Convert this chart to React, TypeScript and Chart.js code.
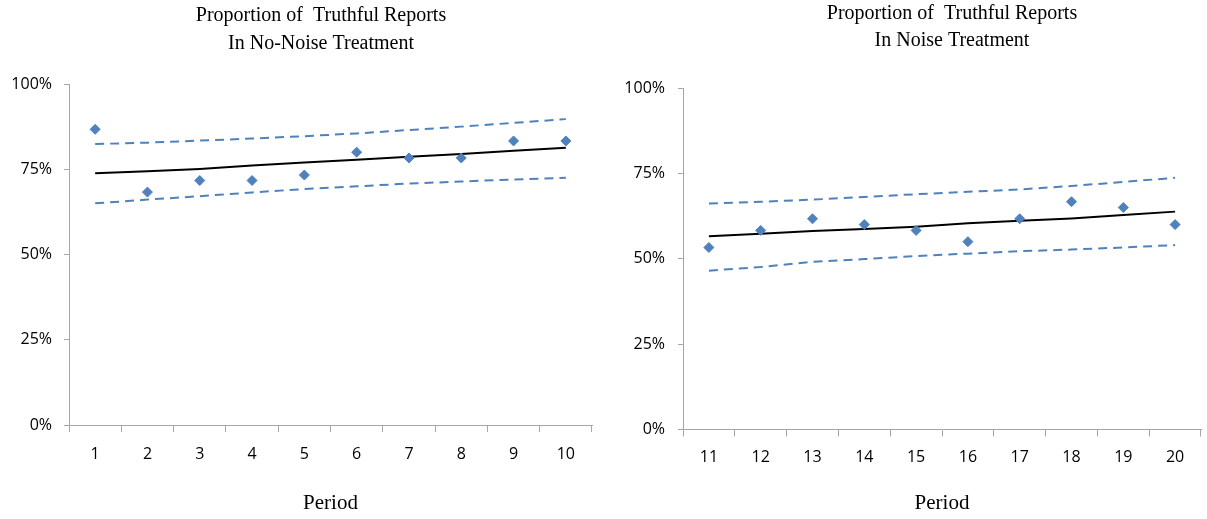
import React, { useEffect, useRef } from "react";
import { Chart, registerables } from "chart.js";

Chart.register(...registerables);

// Periods shown on each panel's category axis
const noNoisePeriods = ["1", "2", "3", "4", "5", "6", "7", "8", "9", "10"];
const noisePeriods = ["11", "12", "13", "14", "15", "16", "17", "18", "19", "20"];

// Observed share of truthful reports (%)
const noNoiseObserved = [86.7, 68.3, 71.7, 71.7, 73.3, 80.0, 78.3, 78.3, 83.3, 83.3];
const noiseObserved = [53.3, 58.3, 61.7, 60.0, 58.3, 55.0, 61.7, 66.7, 65.0, 60.0];

// Fitted trend with its upper and lower confidence bounds (%)
const noNoiseFit = [73.8, 74.4, 75.1, 76.1, 77.0, 77.8, 78.7, 79.5, 80.4, 81.3];
const noNoiseUpper = [82.4, 82.8, 83.4, 84.0, 84.7, 85.5, 86.5, 87.5, 88.6, 89.7];
const noNoiseLower = [65.0, 66.1, 67.1, 68.2, 69.2, 70.0, 70.8, 71.4, 72.0, 72.5];

const noiseFit = [56.6, 57.3, 58.1, 58.7, 59.4, 60.4, 61.1, 61.8, 62.8, 63.8];
const noiseUpper = [66.2, 66.7, 67.3, 68.1, 68.9, 69.6, 70.3, 71.3, 72.5, 73.7];
const noiseLower = [46.5, 47.6, 49.1, 49.9, 50.8, 51.5, 52.2, 52.7, 53.3, 54.0];

// Percentage axis labels
const percentTicks = ["0%", "25%", "50%", "75%", "100%"];

const noNoiseTitle = ["Proportion of  Truthful Reports", "In No-Noise Treatment"];
const noiseTitle = ["Proportion of  Truthful Reports", "In Noise Treatment"];
const xAxisTitle = "Period";

const BLUE = "#4f81bd";
const AXIS = "#a6a6a6";
const SERIF = "'Liberation Serif', 'DejaVu Serif', serif";
const SANS = "'Open Sans', 'Liberation Sans', sans-serif";

// Draws a multi-line heading at fixed baselines above the plot
const panelTitlePlugin = {
  id: "panelTitle",
  afterDraw(chart: any, _args: any, opts: any) {
    const { ctx } = chart;
    ctx.save();
    ctx.fillStyle = "#000";
    ctx.font = `${opts.size}px ${SERIF}`;
    ctx.textAlign = "center";
    ctx.textBaseline = "alphabetic";
    (opts.lines as string[]).forEach((line, i) => {
      ctx.fillText(line, opts.x, opts.baselines[i]);
    });
    ctx.restore();
  },
};

type PanelProps = {
  left: number;
  width: number;
  height: number;
  labels: string[];
  observed: number[];
  fit: number[];
  upper: number[];
  lower: number[];
  title: string[];
  titleX: number;
  titleBaselines: number[];
  axisWidth: number;
  axisHeight: number;
  areaTop: number;
  padRight: number;
  yTickPad: number;
  xTickPad: number;
};

function Panel(p: PanelProps) {
  const ref = useRef<HTMLCanvasElement | null>(null);

  useEffect(() => {
    if (!ref.current) return;
    const dashed = {
      borderColor: BLUE,
      borderWidth: 2,
      borderDash: [9, 6],
      borderCapStyle: "butt" as const,
      pointRadius: 0,
      tension: 0,
      fill: false,
    };
    const chart = new Chart(ref.current, {
      type: "line",
      data: {
        labels: p.labels,
        datasets: [
          {
            label: "Observed",
            data: p.observed,
            showLine: false,
            pointStyle: "rectRot",
            pointRadius: 5,
            pointBorderWidth: 1,
            pointBackgroundColor: BLUE,
            pointBorderColor: BLUE,
          },
          {
            label: "Fit",
            data: p.fit,
            borderColor: "#000",
            borderWidth: 2,
            pointRadius: 0,
            tension: 0,
            fill: false,
          },
          { label: "Upper", data: p.upper, ...dashed },
          { label: "Lower", data: p.lower, ...dashed },
        ],
      },
      options: {
        responsive: false,
        animation: false,
        devicePixelRatio: 1,
        layout: { padding: { top: p.areaTop, right: p.padRight, left: 0, bottom: 0 } },
        plugins: {
          legend: { display: false },
          tooltip: { enabled: false },
          panelTitle: {
            lines: p.title,
            x: p.titleX,
            baselines: p.titleBaselines,
            size: 20,
          },
        } as any,
        scales: {
          x: {
            type: "category",
            offset: true,
            afterFit: (s: any) => {
              s.height = p.axisHeight;
            },
            grid: {
              offset: true,
              drawOnChartArea: false,
              drawTicks: true,
              tickLength: 7,
              color: AXIS,
            },
            border: { display: true, color: AXIS, width: 1 },
            ticks: {
              color: "#000",
              font: { family: SANS, size: 16 },
              padding: p.xTickPad,
              maxRotation: 0,
            },
            title: {
              display: true,
              text: xAxisTitle,
              color: "#000",
              font: { family: SERIF, size: 21 },
              padding: { top: 0, bottom: 3 },
            },
          },
          y: {
            min: 0,
            max: 100,
            afterFit: (s: any) => {
              s.width = p.axisWidth;
            },
            grid: {
              drawOnChartArea: false,
              drawTicks: true,
              tickLength: 5,
              color: AXIS,
            },
            border: { display: true, color: AXIS, width: 1 },
            ticks: {
              stepSize: 25,
              color: "#000",
              font: { family: SANS, size: 16 },
              padding: p.yTickPad,
              callback: (v: any) => percentTicks[Math.round(Number(v) / 25)],
            },
          },
        },
      },
      plugins: [panelTitlePlugin],
    });
    return () => chart.destroy();
  }, []);

  return (
    <canvas
      ref={ref}
      width={p.width}
      height={p.height}
      style={{
        position: "absolute",
        left: p.left,
        top: 0,
        width: p.width,
        height: p.height,
      }}
    />
  );
}

export default function App() {
  return (
    <div
      style={{
        position: "fixed",
        left: 0,
        top: 0,
        width: 1207,
        height: 519,
        background: "#fff",
        overflow: "hidden",
      }}
    >
      <Panel
        left={0}
        width={600}
        height={519}
        labels={noNoisePeriods}
        observed={noNoiseObserved}
        fit={noNoiseFit}
        upper={noNoiseUpper}
        lower={noNoiseLower}
        title={noNoiseTitle}
        titleX={321}
        titleBaselines={[21, 48.5]}
        axisWidth={69}
        axisHeight={94}
        areaTop={84}
        padRight={8}
        yTickPad={12}
        xTickPad={13}
      />
      <Panel
        left={604}
        width={603}
        height={519}
        labels={noisePeriods}
        observed={noiseObserved}
        fit={noiseFit}
        upper={noiseUpper}
        lower={noiseLower}
        title={noiseTitle}
        titleX={348}
        titleBaselines={[18.5, 45.5]}
        axisWidth={79}
        axisHeight={89.5}
        areaTop={88}
        padRight={1}
        yTickPad={13}
        xTickPad={11}
      />
    </div>
  );
}
